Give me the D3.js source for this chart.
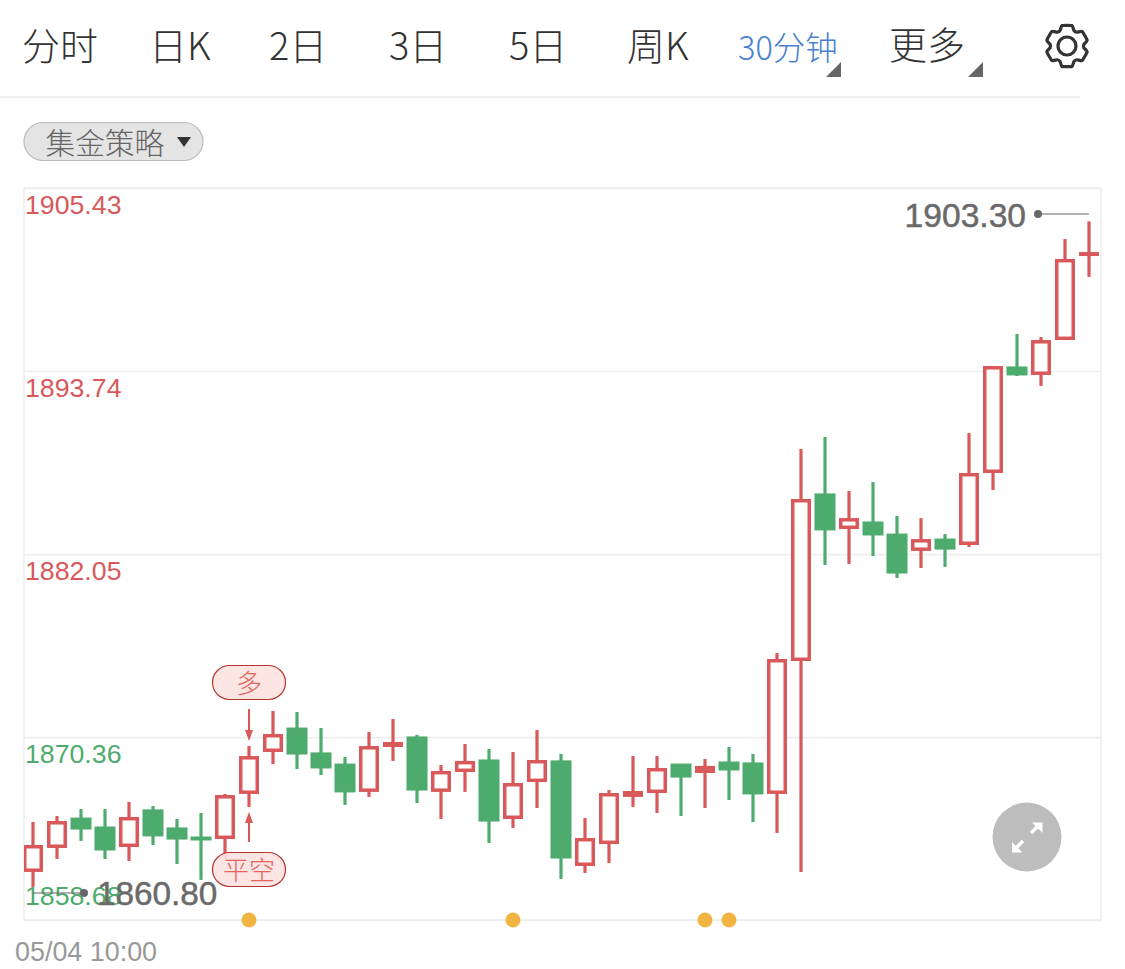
<!DOCTYPE html>
<html><head><meta charset="utf-8">
<script src="https://cdn.jsdelivr.net/npm/d3@7"></script>
<style>html,body{margin:0;padding:0;background:#fff;overflow:hidden}svg{display:block}
text{font-family:"Liberation Sans",Arial,sans-serif}
.cjk{font-family:"Noto Sans CJK SC","Liberation Sans",sans-serif}</style></head><body>
<svg id="c" width="1125" height="969"></svg>
<script>
const opens =[1861.75,1863.28,1865.19,1864.62,1863.34,1865.71,1864.56,1863.98,1863.85,1866.73,1869.41,1870.94,1869.35,1868.64,1866.86,1869.73,1870.37,1866.86,1868.13,1868.90,1865.13,1867.49,1868.84,1862.13,1863.53,1866.54,1866.79,1868.64,1868.07,1868.77,1868.71,1866.73,1875.22,1885.89,1883.65,1884.10,1883.33,1882.25,1883.01,1882.63,1887.23,1894.00,1893.49,1895.72,1901.15];
const closes=[1863.47,1865.00,1864.49,1863.15,1865.26,1864.05,1863.85,1863.79,1866.66,1869.15,1870.56,1869.28,1868.39,1866.86,1869.79,1870.05,1866.98,1868.20,1868.84,1865.00,1867.43,1868.90,1862.64,1863.92,1866.79,1866.92,1868.39,1867.81,1868.52,1868.26,1866.73,1875.35,1885.57,1883.59,1884.35,1883.27,1880.84,1883.01,1882.37,1887.23,1894.06,1893.49,1895.72,1900.90,1901.34];
const highs =[1864.94,1865.32,1865.77,1865.77,1866.22,1865.96,1865.13,1865.51,1866.73,1869.79,1872.03,1871.96,1870.94,1869.09,1870.69,1871.52,1870.50,1868.58,1869.92,1869.60,1869.41,1870.81,1869.28,1865.19,1866.98,1869.15,1869.15,1868.64,1868.96,1869.73,1869.28,1875.73,1888.76,1889.53,1886.08,1886.65,1884.48,1884.35,1883.33,1889.78,1894.06,1896.11,1895.91,1902.17,1903.30];
const lows  =[1860.80,1862.58,1863.73,1862.58,1862.45,1863.47,1862.26,1861.24,1862.51,1865.90,1868.64,1868.32,1867.94,1866.03,1866.54,1868.84,1866.15,1865.13,1866.86,1863.60,1864.56,1865.83,1861.30,1861.68,1862.32,1865.90,1865.51,1865.32,1865.83,1866.34,1864.94,1864.24,1861.75,1881.35,1881.42,1881.93,1880.52,1881.16,1881.23,1882.50,1886.14,1893.42,1892.79,1895.72,1899.75];
const yTicks=[1905.43,1893.74,1882.05,1870.36,1858.68];
const yLabels=["1905.43","1893.74","1882.05","1870.36","1858.68"];
const signalIdx=[9,20,28,29];
const tabs=["分时","日K","2日","3日","5日","周K"];
const tabX=[22,149,269,389,509,627];
const startLabel="05/04 10:00";
const RED="#d9585a",GREEN="#4dab6d",BOX=[24,188,1101,920];

const svg=d3.select("#c");
const idx=opens.map((_,i)=>i);
const x=d3.scaleBand().domain(idx).range([21,1101]);
const cx=i=>x(i)+x.bandwidth()/2;
const y=d3.scaleLinear().domain([1858.68,1905.43]).range([920,188]);

// header
svg.selectAll(".tab").data(tabs).join("text").attr("class","cjk").attr("x",(d,i)=>tabX[i]).attr("y",60)
  .attr("font-size",38).attr("font-weight",300).attr("fill","#333").text(d=>d);
svg.append("text").attr("class","cjk").attr("x",738).attr("y",60).attr("font-size",32.5).attr("font-weight",300).attr("fill","#4a7fd0").text("30分钟");
svg.append("text").attr("class","cjk").attr("x",889).attr("y",59).attr("font-size",38).attr("font-weight",300).attr("fill","#333").text("更多");
[[826,77],[968,77]].forEach(([a,b])=>svg.append("path").attr("d",`M${a},${b}L${a+15},${b}L${a+15},${b-15}Z`).attr("fill","#666"));
svg.append("line").attr("x1",0).attr("x2",1080).attr("y1",97).attr("y2",97).attr("stroke","#eee").attr("stroke-width",2);
// gear: six rounded teeth
const gearPts=[];
for(let k=0;k<6;k++){const a=k*Math.PI/3;
  gearPts.push([a-.24,21],[a+.24,21],[a+.42,17],[a+Math.PI/3-.42,17]);}
svg.append("path").attr("transform","translate(1067,46)").attr("d",d3.lineRadial().curve(d3.curveCardinalClosed.tension(.6))(gearPts))
  .attr("fill","none").attr("stroke","#333").attr("stroke-width",3.2).attr("stroke-linejoin","round");
svg.append("circle").attr("cx",1067).attr("cy",46).attr("r",9).attr("fill","none").attr("stroke","#333").attr("stroke-width",3.2);
// strategy pill
svg.append("rect").attr("x",24).attr("y",122.5).attr("width",179).attr("height",38).attr("rx",19).attr("fill","#e4e4e4").attr("stroke","#bbb").attr("stroke-width",1.2);
svg.append("text").attr("class","cjk").attr("x",45.5).attr("y",154).attr("font-size",29.7).attr("font-weight",300).attr("fill","#666").text("集金策略");
svg.append("path").attr("d","M177,137L191,137L184,147Z").attr("fill","#333");

// frame + grid via axis
svg.append("rect").attr("x",BOX[0]).attr("y",BOX[1]).attr("width",BOX[2]-BOX[0]).attr("height",BOX[3]-BOX[1]).attr("fill","none").attr("stroke","#eee").attr("stroke-width",1.6);
const ax=svg.append("g").attr("transform",`translate(${BOX[0]},0)`)
  .call(d3.axisRight(y).tickValues(yTicks).tickSize(BOX[2]-BOX[0]).tickFormat((d,i)=>yLabels[i]));
ax.select(".domain").remove();
ax.selectAll("line").attr("stroke","#eee").attr("stroke-width",1.6);
ax.selectAll("text").attr("font-size",26.7).attr("text-anchor","start").attr("x",1)
  .attr("dy",null).attr("y",(d,i)=>i===4?-16:25)
  .attr("fill",(d,i)=>i<3?RED:GREEN);

// candles
svg.append("clipPath").attr("id","clip").append("rect").attr("x",BOX[0]).attr("y",0).attr("width",BOX[2]-BOX[0]).attr("height",969);
const g=svg.append("g").attr("clip-path","url(#clip)");
const up=i=>closes[i]>=opens[i];
const col=i=>up(i)?RED:GREEN;
g.selectAll(".wick").data(idx).join("line").attr("x1",cx).attr("x2",cx)
  .attr("y1",i=>y(highs[i])).attr("y2",i=>y(lows[i])).attr("stroke",col).attr("stroke-width",3.2);
g.selectAll(".body").data(idx).join("rect")
  .attr("x",i=>cx(i)-(up(i)?8.25:10))
  .attr("width",i=>up(i)?16.5:20)
  .attr("y",i=>y(Math.max(opens[i],closes[i]))+(up(i)?1.75:0))
  .attr("height",i=>Math.max(0.5,Math.abs(y(opens[i])-y(closes[i]))-(up(i)?3.5:0)))
  .attr("fill",i=>up(i)?"#fff":GREEN).attr("stroke",col).attr("stroke-width",i=>up(i)?3.5:1);

// signal dots
svg.selectAll(".sig").data(signalIdx).join("circle").attr("cx",cx).attr("cy",920).attr("r",7.5).attr("fill","#f2b441");

// trade markers
const mk=cx(9);
function bubble(top,label){
  svg.append("rect").attr("x",mk-36.5).attr("y",top).attr("width",73).attr("height",34).attr("rx",17).attr("fill","#fde2e0").attr("fill-opacity",.9).attr("stroke","#b5352f").attr("stroke-width",1.2);
  svg.append("text").attr("class","cjk").attr("x",mk).attr("y",top+27).attr("text-anchor","middle").attr("font-size",26).attr("font-weight",300).attr("fill","#e2645f").text(label);
}
bubble(665.5,"多");bubble(852.5,"平空");
svg.append("line").attr("x1",mk).attr("x2",mk).attr("y1",709).attr("y2",735).attr("stroke",RED).attr("stroke-width",2);
svg.append("path").attr("d",`M${mk-4},730L${mk+4},730L${mk},741Z`).attr("fill",RED);
svg.append("line").attr("x1",mk).attr("x2",mk).attr("y1",842).attr("y2",818).attr("stroke",RED).attr("stroke-width",2);
svg.append("path").attr("d",`M${mk-4},823L${mk+4},823L${mk},812Z`).attr("fill",RED);

// extreme labels
const hiI=d3.maxIndex(highs),loI=d3.minIndex(lows);
const hiY=214,loY=893;
svg.append("line").attr("x1",1038).attr("x2",cx(hiI)).attr("y1",hiY).attr("y2",hiY).attr("stroke","#666").attr("stroke-width",1.2);
svg.append("circle").attr("cx",1038).attr("cy",hiY).attr("r",4).attr("fill","#666");
svg.append("text").attr("x",1026).attr("y",227).attr("text-anchor","end").attr("font-size",33.6).attr("fill","#6a6a6a").attr("stroke","#6a6a6a").attr("stroke-width",.5).text(highs[hiI].toFixed(2));
svg.append("line").attr("x1",cx(loI)).attr("x2",84).attr("y1",loY).attr("y2",loY).attr("stroke","#666").attr("stroke-width",1.2);
svg.append("circle").attr("cx",84).attr("cy",loY).attr("r",4).attr("fill","#666");
svg.append("text").attr("x",97).attr("y",905).attr("font-size",33.3).attr("fill","#6a6a6a").attr("stroke","#6a6a6a").attr("stroke-width",.5).text(lows[loI].toFixed(2));

// date
svg.append("text").attr("x",15).attr("y",961).attr("font-size",26.9).attr("fill","#999").text(startLabel);

// expand button
svg.append("circle").attr("cx",1027).attr("cy",837).attr("r",34.5).attr("fill","#bdbdbd");
svg.append("path").attr("d","M1031,833L1038,826M1023,841L1016,848").attr("stroke","#fff").attr("stroke-width",3.5);
svg.append("path").attr("d","M1042.5,822.5L1042.5,833L1032,822.5Z M1012,852.5L1012,842L1022.5,852.5Z").attr("fill","#fff");
</script></body></html>
